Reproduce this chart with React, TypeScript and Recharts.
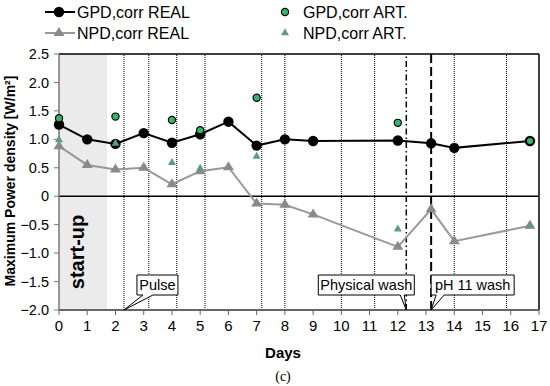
import React from "react"
import {
  ComposedChart, Line, Scatter, XAxis, YAxis, ReferenceLine, ReferenceArea, ReferenceDot,
} from "recharts"

// days and values
const gpdRealDays = [0, 1, 2, 3, 4, 5, 6, 7, 8, 9, 12, 13.18, 14, 16.68]
const gpdRealValues = [1.26, 1.0, 0.92, 1.11, 0.94, 1.09, 1.31, 0.89, 1.0, 0.97, 0.98, 0.93, 0.85, 0.97]

const npdRealDays = [0, 1, 2, 3, 4, 5, 6, 7, 8, 9, 12, 13.18, 14, 16.68]
const npdRealValues = [0.88, 0.55, 0.47, 0.5, 0.21, 0.44, 0.51, -0.13, -0.15, -0.32, -0.89, -0.23, -0.79, -0.52]

const gpdArtDays = [0, 2, 4, 5, 7, 12, 16.68]
const gpdArtValues = [1.37, 1.4, 1.34, 1.16, 1.73, 1.29, 0.97]

const npdArtDays = [0, 2, 4, 5, 7, 12, 16.68]
const npdArtValues = [0.99, 0.93, 0.59, 0.49, 0.7, -0.58, -0.52]

const xTicks = [0, 1, 2, 3, 4, 5, 6, 7, 8, 9, 10, 11, 12, 13, 14, 15, 16, 17]
const yTicks = [-2, -1.5, -1, -0.5, 0, 0.5, 1, 1.5, 2, 2.5]

const dottedDays = [2.3, 3.18, 4.17, 5.17, 7.18, 8, 10, 11.18, 14, 15.85]
const physicalWashDay = 12.3
const phWashDay = 13.18
const startUpEnd = 1.7

const zip = (xs: number[], ys: number[]) => xs.map((x, i) => ({ x, y: ys[i] }))
const gpdReal = zip(gpdRealDays, gpdRealValues)
const npdReal = zip(npdRealDays, npdRealValues)
const gpdArt = zip(gpdArtDays, gpdArtValues)
const npdArt = zip(npdArtDays, npdArtValues)

const FONT = "'Liberation Sans', Arial, sans-serif"
const GREEN = "#2fb872"
const ART_TRI = "#5c9c7e"

const fmt = (v: number) => (v === 0 ? "0" : v.toFixed(1).replace("-", "\u2212"))

const tri = (cx: number, cy: number, w: number, h: number) =>
  `${cx - w / 2},${cy + h / 3} ${cx + w / 2},${cy + h / 3} ${cx},${cy - (2 * h) / 3}`

const BlackDot = (p: any) => <circle key={`b${p.index}`} cx={p.cx} cy={p.cy} r={5.2} fill="#000" />
const GrayTri = (p: any) => <polygon key={`g${p.index}`} points={tri(p.cx, p.cy, 11, 9)} fill="#8a8a8a" />
const GreenDot = (p: any) => <circle cx={p.cx} cy={p.cy} r={3.6} fill={GREEN} stroke="#000" strokeWidth={1.2} />
const ArtTri = (p: any) => <polygon points={tri(p.cx, p.cy, 8, 7)} fill={ART_TRI} />

// callout box with a tail pointing at (cx, cy)
const callout = (text: string, dx: number, w: number, t1: number, t2: number) => (p: any) => {
  const { cx, cy } = p
  const x0 = cx + dx
  const top = cy - 35
  const bot = cy - 15
  return (
    <g>
      <path
        d={`M${x0},${top} H${x0 + w} V${bot} H${cx + t2} L${cx},${cy} L${cx + t1},${bot} H${x0} Z`}
        fill="#fff"
        stroke="#000"
        strokeWidth={1}
      />
      <text x={x0 + w / 2} y={bot - 5} textAnchor="middle" fontFamily={FONT} fontSize={14.5} fill="#000">
        {text}
      </text>
    </g>
  )
}

const LegendItem = ({ x, y, label, marker }: any) => (
  <g>
    {marker}
    <text x={x} y={y + 5.5} fontFamily={FONT} fontSize={16} fill="#000">{label}</text>
  </g>
)

export default function App() {
  return (
    <div style={{ position: "absolute", left: 0, top: 0, width: 550, height: 386, background: "#fff" }}>
      <svg width={550} height={50} style={{ position: "absolute", left: 0, top: 0 }}>
        <LegendItem x={77} y={12} label="GPD,corr REAL" marker={<g><line x1={45} x2={75} y1={12} y2={12} stroke="#000" strokeWidth={2} /><circle cx={59} cy={12} r={5.2} fill="#000" /></g>} />
        <LegendItem x={77} y={33} label="NPD,corr REAL" marker={<g><line x1={45} x2={75} y1={33} y2={33} stroke="#999" strokeWidth={2} /><polygon points={tri(59, 33, 11, 9)} fill="#8a8a8a" /></g>} />
        <LegendItem x={303} y={12} label="GPD,corr ART." marker={<circle cx={285} cy={12} r={3.6} fill={GREEN} stroke="#000" strokeWidth={1.2} />} />
        <LegendItem x={303} y={33} label="NPD,corr ART." marker={<polygon points={tri(285, 33, 8, 7)} fill={ART_TRI} />} />
      </svg>
      <ComposedChart width={550} height={386} margin={{ top: 54, right: 11, bottom: 46, left: 19 }}>
        <XAxis
          type="number"
          dataKey="x"
          domain={[0, 17]}
          ticks={xTicks}
          interval={0}
          height={30}
          tickFormatter={(v: number) => String(v)}
          tick={{ fontFamily: FONT, fontSize: 15, fill: "#000" }}
          axisLine={{ stroke: "#666", strokeWidth: 2 }}
          tickLine={{ stroke: "#666" }}
          tickSize={5}
          tickMargin={5}
          label={{
            content: () => (
              <g>
                <text x={283} y={358} textAnchor="middle" fontFamily={FONT} fontSize={15} fontWeight="bold" fill="#000">Days</text>
                <text x={283} y={381} textAnchor="middle" fontFamily="'Liberation Serif', serif" fontSize={14} fill="#000">(c)</text>
              </g>
            ),
          }}
        />
        <YAxis
          type="number"
          dataKey="y"
          domain={[-2, 2.5]}
          ticks={yTicks}
          interval={0}
          width={40}
          tickFormatter={fmt}
          tick={{ fontFamily: FONT, fontSize: 14.5, fill: "#000" }}
          axisLine={{ stroke: "#777", strokeWidth: 1.5 }}
          tickLine={{ stroke: "#777" }}
          tickSize={5}
          tickMargin={5}
          label={{
            content: () => (
              <text
                x={0}
                y={0}
                transform="translate(15,181) rotate(-90)"
                textAnchor="middle"
                fontFamily={FONT}
                fontSize={14}
                fontWeight="bold"
                fill="#000"
              >
                Maximum Power density [W/m²]
              </text>
            ),
          }}
        />
        <ReferenceArea
          x1={0}
          x2={startUpEnd}
          y1={-2}
          y2={2.5}
          fill="#ebebeb"
          fillOpacity={1}
          stroke="none"
          label={{
            content: (p: any) => {
              const vb = p.viewBox
              const cx = vb.x + vb.width / 2 - 6
              return (
                <text transform={`translate(${cx},252) rotate(-90)`} textAnchor="middle" dominantBaseline="central" fontFamily={FONT} fontSize={20} fontWeight="bold" fill="#000">
                  start-up
                </text>
              )
            },
          }}
        />
        {dottedDays.map((d) => (
          <ReferenceLine key={d} x={d} stroke="#000" strokeWidth={1} strokeDasharray="1 1" />
        ))}
        <ReferenceLine x={physicalWashDay} stroke="#000" strokeWidth={1.5} strokeDasharray="6 3 1.5 3" />
        <ReferenceLine x={phWashDay} stroke="#000" strokeWidth={2} strokeDasharray="9 4" />
        <ReferenceLine y={2.5} stroke="#000" strokeWidth={1.5} />
        <ReferenceLine x={17} stroke="#000" strokeWidth={1.5} />
        <ReferenceLine y={0} stroke="#000" strokeWidth={1.5} />
        <Line
          data={npdReal}
          dataKey="y"
          stroke="#999"
          strokeWidth={2}
          dot={GrayTri}
          isAnimationActive={false}
        />
        <Line
          data={gpdReal}
          dataKey="y"
          stroke="#000"
          strokeWidth={2}
          dot={BlackDot}
          isAnimationActive={false}
        />
        <Scatter data={npdArt} dataKey="y" shape={ArtTri} isAnimationActive={false} />
        <Scatter data={gpdArt} dataKey="y" shape={GreenDot} isAnimationActive={false} />
        <ReferenceDot x={2.3} y={-2} ifOverflow="visible" shape={callout("Pulse", 13, 41, 19, 29)} />
        <ReferenceDot x={physicalWashDay} y={-2} ifOverflow="visible" shape={callout("Physical wash", -88, 96, -6, -2)} />
        <ReferenceDot x={phWashDay} y={-2} ifOverflow="visible" shape={callout("pH 11 wash", 0, 83, 5, 13)} />
      </ComposedChart>
    </div>
  )
}
